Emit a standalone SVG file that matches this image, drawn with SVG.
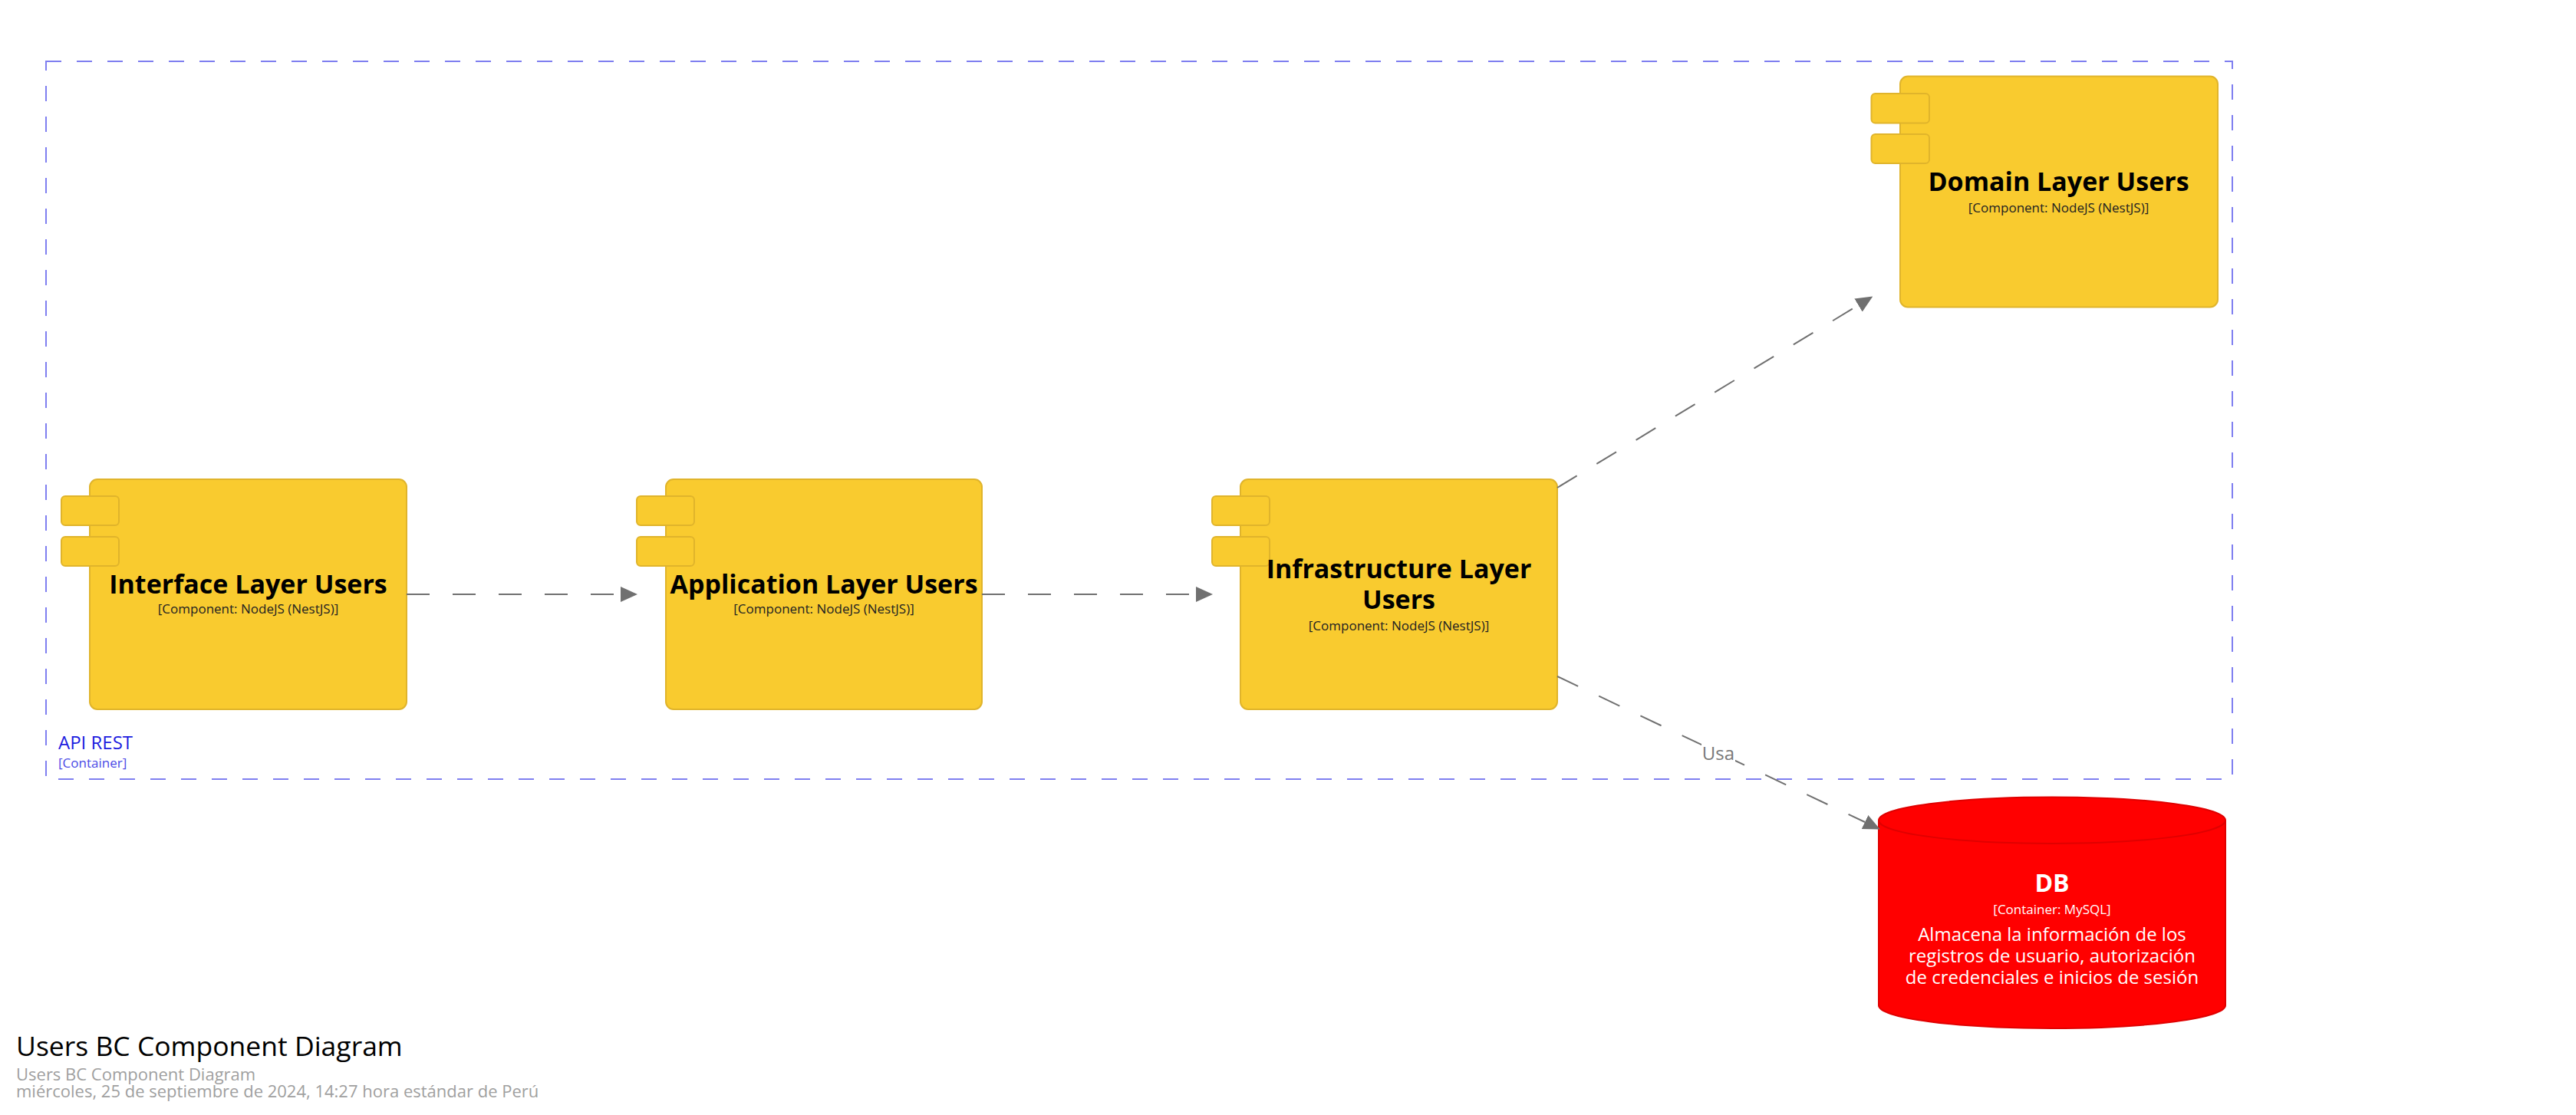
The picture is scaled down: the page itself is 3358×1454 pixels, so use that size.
<svg xmlns="http://www.w3.org/2000/svg" width="3358" height="1454" viewBox="0 0 3358 1454">
<style>
.body{fill:#f9cb2f;stroke:#e0b42b;stroke-width:2}
.tab{fill:#f9cb2f;stroke:#e0b42b;stroke-width:2}
.ttl{font-family:"Open Sans","Liberation Sans",sans-serif;font-weight:bold;font-size:34px;fill:#000;text-anchor:middle}
.sub{font-family:"Open Sans","Liberation Sans",sans-serif;font-size:17px;fill:#222;text-anchor:middle}
.conn{fill:none;stroke:#707070;stroke-width:2;stroke-dasharray:30 30}
.bnd{fill:none;stroke:#7f7ff0;stroke-width:2;stroke-dasharray:20 20}
.dbt{font-family:"Open Sans","Liberation Sans",sans-serif;fill:#fff;text-anchor:middle}
</style>
<defs>
<marker id="arr" markerUnits="userSpaceOnUse" viewBox="0 0 22 20" refX="0" refY="10" markerWidth="22" markerHeight="20" orient="auto">
<path d="M0,0 L22,10 L0,20 Z" fill="#707070"/>
</marker>
</defs>
<rect width="3358" height="1454" fill="#fff"/>
<g id="boundary-api-rest">
<rect class="bnd" x="60" y="80" width="2850" height="936"/>
<text x="76" y="977" font-family="'Open Sans','Liberation Sans',sans-serif" font-size="24" fill="#1c1ce0">API REST</text>
<text x="76" y="1001" font-family="'Open Sans','Liberation Sans',sans-serif" font-size="17" fill="#4a4ae6">[Container]</text>
</g>
<g id="interface-layer-users">
<rect class="body" x="117" y="625" width="413" height="300" rx="10"/>
<rect class="tab" x="80" y="647" width="75" height="38" rx="5"/>
<rect class="tab" x="80" y="700" width="75" height="38" rx="5"/>
<text class="ttl" x="323.5" y="774">Interface Layer Users</text>
<text class="sub" x="323.5" y="800">[Component: NodeJS (NestJS)]</text>
</g>
<g id="application-layer-users">
<rect class="body" x="868" y="625" width="412" height="300" rx="10"/>
<rect class="tab" x="830" y="647" width="75" height="38" rx="5"/>
<rect class="tab" x="830" y="700" width="75" height="38" rx="5"/>
<text class="ttl" x="1074" y="774">Application Layer Users</text>
<text class="sub" x="1074" y="800">[Component: NodeJS (NestJS)]</text>
</g>
<g id="infrastructure-layer-users">
<rect class="body" x="1617" y="625" width="413" height="300" rx="10"/>
<rect class="tab" x="1580" y="647" width="75" height="38" rx="5"/>
<rect class="tab" x="1580" y="700" width="75" height="38" rx="5"/>
<text class="ttl" x="1823.5" y="753.5">Infrastructure Layer</text>
<text class="ttl" x="1823.5" y="794">Users</text>
<text class="sub" x="1823.5" y="821.5">[Component: NodeJS (NestJS)]</text>
</g>
<g id="domain-layer-users">
<rect class="body" x="2477" y="99.5" width="414" height="301" rx="10"/>
<rect class="tab" x="2439.5" y="122" width="75.5" height="38.5" rx="5"/>
<rect class="tab" x="2439.5" y="175" width="75.5" height="38" rx="5"/>
<text class="ttl" x="2683.5" y="248.5">Domain Layer Users</text>
<text class="sub" x="2683.5" y="276.5">[Component: NodeJS (NestJS)]</text>
</g>
<g id="db">
<path d="M2449,1069.7 A226,30.3 0 0 1 2901,1069.7 L2901,1311 A226,30 0 0 1 2449,1311 Z" fill="#ff0000" stroke="#e00000" stroke-width="2"/>
<path d="M2449,1069.7 A226,30.3 0 0 0 2901,1069.7" fill="none" stroke="#e00000" stroke-width="2"/>
<text class="dbt" x="2675" y="1162.5" font-size="32" font-weight="bold">DB</text>
<text class="dbt" x="2675" y="1191.5" font-size="17">[Container: MySQL]</text>
<text class="dbt" x="2675" y="1226.5" font-size="24">Almacena la información de los</text>
<text class="dbt" x="2675" y="1254.5" font-size="24">registros de usuario, autorización</text>
<text class="dbt" x="2675" y="1283" font-size="24">de credenciales e inicios de sesión</text>
</g>
<g id="connectors">
<path class="conn" d="M530,775 L809,775" marker-end="url(#arr)"/>
<path class="conn" d="M1280,775 L1559,775" marker-end="url(#arr)"/>
<path class="conn" d="M2030,636 L2422.5,398" marker-end="url(#arr)"/>
<path class="conn" d="M2030,882 L2431,1072" marker-end="url(#arr)"/>
<rect x="2218" y="966" width="44" height="30" fill="#fff"/>
<text x="2240" y="990.5" font-family="'Open Sans','Liberation Sans',sans-serif" font-size="24" fill="#777" text-anchor="middle">Usa</text>
</g>
<g id="footer">
<text x="21" y="1376.5" font-family="'Open Sans','Liberation Sans',sans-serif" font-size="35.5" fill="#000">Users BC Component Diagram</text>
<text x="21" y="1409" font-family="'Open Sans','Liberation Sans',sans-serif" font-size="22" fill="#a0a0a0">Users BC Component Diagram</text>
<text x="21" y="1430.5" font-family="'Open Sans','Liberation Sans',sans-serif" font-size="22" fill="#a0a0a0">miércoles, 25 de septiembre de 2024, 14:27 hora estándar de Perú</text>
</g>
</svg>
